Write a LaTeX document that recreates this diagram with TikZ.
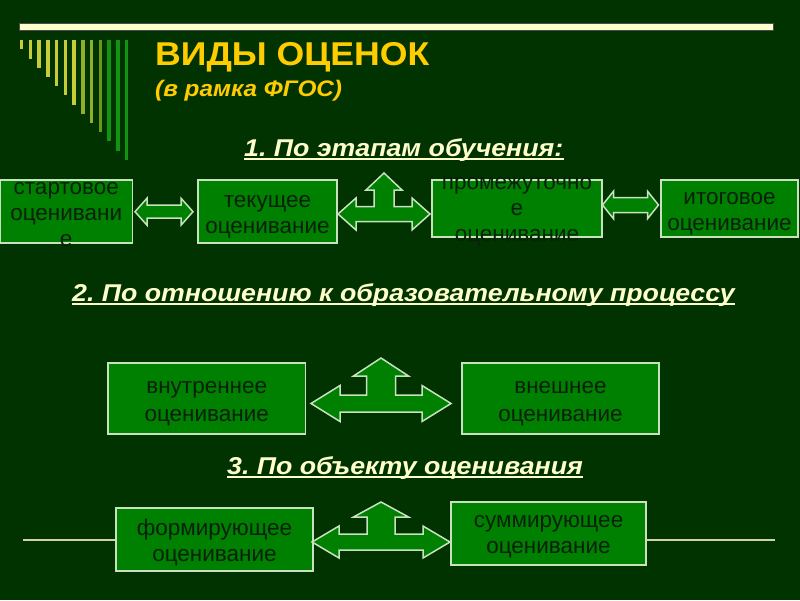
\documentclass[tikz,border=0pt]{standalone}
\usepackage{fontspec}
\setmainfont{Liberation Sans}
\newfontfamily\widefont[FakeStretch=1.08]{Liberation Sans}
\newfontfamily\headfont[FakeStretch=1.1]{Liberation Sans}
\frenchspacing
\definecolor{bg}{HTML}{003300}
\definecolor{boxgreen}{HTML}{008000}
\definecolor{boxline}{HTML}{C8E2C0}
\definecolor{boxink}{HTML}{0A200A}
\definecolor{cream}{HTML}{FFFFCC}
\definecolor{gold}{HTML}{FFCC00}
\definecolor{rule}{HTML}{D2D2A8}
\definecolor{stripeA}{HTML}{C8CC38}
\definecolor{stripeB}{HTML}{8FB028}
\definecolor{stripeC}{HTML}{6A9A14}
\definecolor{stripeD}{HTML}{129412}

\begin{document}
\begin{tikzpicture}[x=1pt,y=-1pt,
	box/.style={draw=boxline, line width=1.5pt, fill=boxgreen, inner sep=0pt},
	boxtext/.style={text=boxink, align=center, font=\fontsize{22.5}{26}\selectfont},
	blockarrow/.style={draw=boxline, line width=1.5pt, fill=boxgreen, line join=miter},
	heading/.style={anchor=base west, inner sep=0pt, text=cream, font=\headfont\fontsize{24.3}{28}\selectfont\bfseries\itshape}]
	\fill[bg] (0,0) rectangle (800,600);
	\useasboundingbox (0,0) rectangle (800,600);
	\filldraw[fill=cream, draw=black!70, line width=0.5pt] (19.5,23) rectangle (773.5,30);
	\foreach \k/\c in {0/stripeA,1/stripeA,2/stripeA,3/stripeA,4/stripeA,5/stripeA,6/stripeA,7/stripeB,8/stripeB,9/stripeC,10/stripeD,11/stripeD,12/stripeD}
	{
		\draw[\c, line width=3.5pt] (21.7+8.75*\k,40) -- (21.7+8.75*\k,49.3+9.2*\k);
	}
	\node[anchor=base west, inner sep=0pt, text=gold, font=\widefont\fontsize{33}{36}\selectfont\bfseries] (title) at (155,65) {ВИДЫ ОЦЕНОК};
	\node[anchor=base west, inner sep=0pt, text=gold, font=\widefont\fontsize{22.5}{27}\selectfont\bfseries\itshape] (sub) at (155,96) {(в рамка ФГОС)};
	\node[heading] (h1) at (244,156) {1. По этапам обучения:};
	\node[heading] (h2) at (72,301) {2. По отношению к образовательному процессу};
	\node[heading] (h3) at (227,474) {3. По объекту оценивания};
	\foreach \h in {h1,h2,h3}
	{
		\draw[cream, line width=1.8pt] ([yshift=-3.2pt]\h.base west) -- ([yshift=-3.2pt]\h.base east);
	}
	\coordinate (rl) at (23,540);
	\coordinate (rr) at (775,540);
	\node[box, minimum width=132pt, minimum height=63pt] (st) at (66.25,211.5) {};
	\node[boxtext] (st-t) at ([yshift=-3pt]st) {стартовое\\оценивани\\е};
	\node[box, minimum width=139pt, minimum height=63pt] (cur) at (267.5,211.5) {};
	\node[boxtext] (cur-t) at ([yshift=-5pt]cur) {текущее\\оценивание};
	\node[box, minimum width=170pt, minimum height=57pt] (mid) at (517,208.5) {};
	\node[boxtext] (mid-t) at ([yshift=-3.5pt]mid) {промежуточно\\е\\оценивание};
	\node[box, minimum width=137pt, minimum height=57pt] (fin) at (729.5,208.5) {};
	\node[boxtext] (fin-t) at ([yshift=-5pt]fin) {итоговое\\оценивание};
	\node[box, minimum width=197.5pt, minimum height=71pt] (inn) at (206.75,398.5) {};
	\node[boxtext, font=\fontsize{22.5}{28}\selectfont] (inn-t) at ([yshift=-5pt]inn) {внутреннее\\оценивание};
	\node[box, minimum width=197pt, minimum height=71pt] (ext) at (560.5,398.5) {};
	\node[boxtext, font=\fontsize{22.5}{28}\selectfont] (ext-t) at ([yshift=-5pt]ext) {внешнее\\оценивание};
	\draw[rule, line width=2.5pt] (rl) -- (rl -| 116,0) (rr -| 646,0) -- (rr);
	\node[box, minimum width=197pt, minimum height=63pt] (form) at (214.5,539.5) {};
	\node[boxtext] (form-t) at ([yshift=-3pt]form) {формирующее\\оценивание};
	\node[box, minimum width=195pt, minimum height=63pt] (summ) at (548.5,533.5) {};
	\node[boxtext] (summ-t) at ([yshift=-3pt]summ) {суммирующее\\оценивание};
	\foreach \l/\r/\y/\hl/\hh/\sh in {135/193/211.7/12/13.5/6.5, 602.5/658.5/205/11/13.8/7.5}
	{
		\draw[blockarrow] (\l,\y) -- (\l+\hl,\y-\hh) -- (\l+\hl,\y-\sh) -- (\r-\hl,\y-\sh) -- (\r-\hl,\y-\hh) -- (\r,\y)
			-- (\r-\hl,\y+\hh) -- (\r-\hl,\y+\sh) -- (\l+\hl,\y+\sh) -- (\l+\hl,\y+\hh) -- cycle;
	}
	\foreach \l/\r/\y/\t/\hl/\hh/\sh/\vw/\tw/\tl in {338/430/214/173/18/16/7.5/10/18/17, 311/451/403.5/358/29/18/8.5/14.5/27.5/18, 312/450/542/502/27/16/8/14/27.5/15}
	{
		\pgfmathsetmacro\m{(\l+\r)/2}
		\draw[blockarrow] (\l,\y) -- (\l+\hl,\y-\hh) -- (\l+\hl,\y-\sh) -- (\m-\vw,\y-\sh) -- (\m-\vw,\t+\tl) -- (\m-\tw,\t+\tl) -- (\m,\t)
			-- (\m+\tw,\t+\tl) -- (\m+\vw,\t+\tl) -- (\m+\vw,\y-\sh) -- (\r-\hl,\y-\sh) -- (\r-\hl,\y-\hh) -- (\r,\y)
			-- (\r-\hl,\y+\hh) -- (\r-\hl,\y+\sh) -- (\l+\hl,\y+\sh) -- (\l+\hl,\y+\hh) -- cycle;
	}
\end{tikzpicture}
\end{document}
